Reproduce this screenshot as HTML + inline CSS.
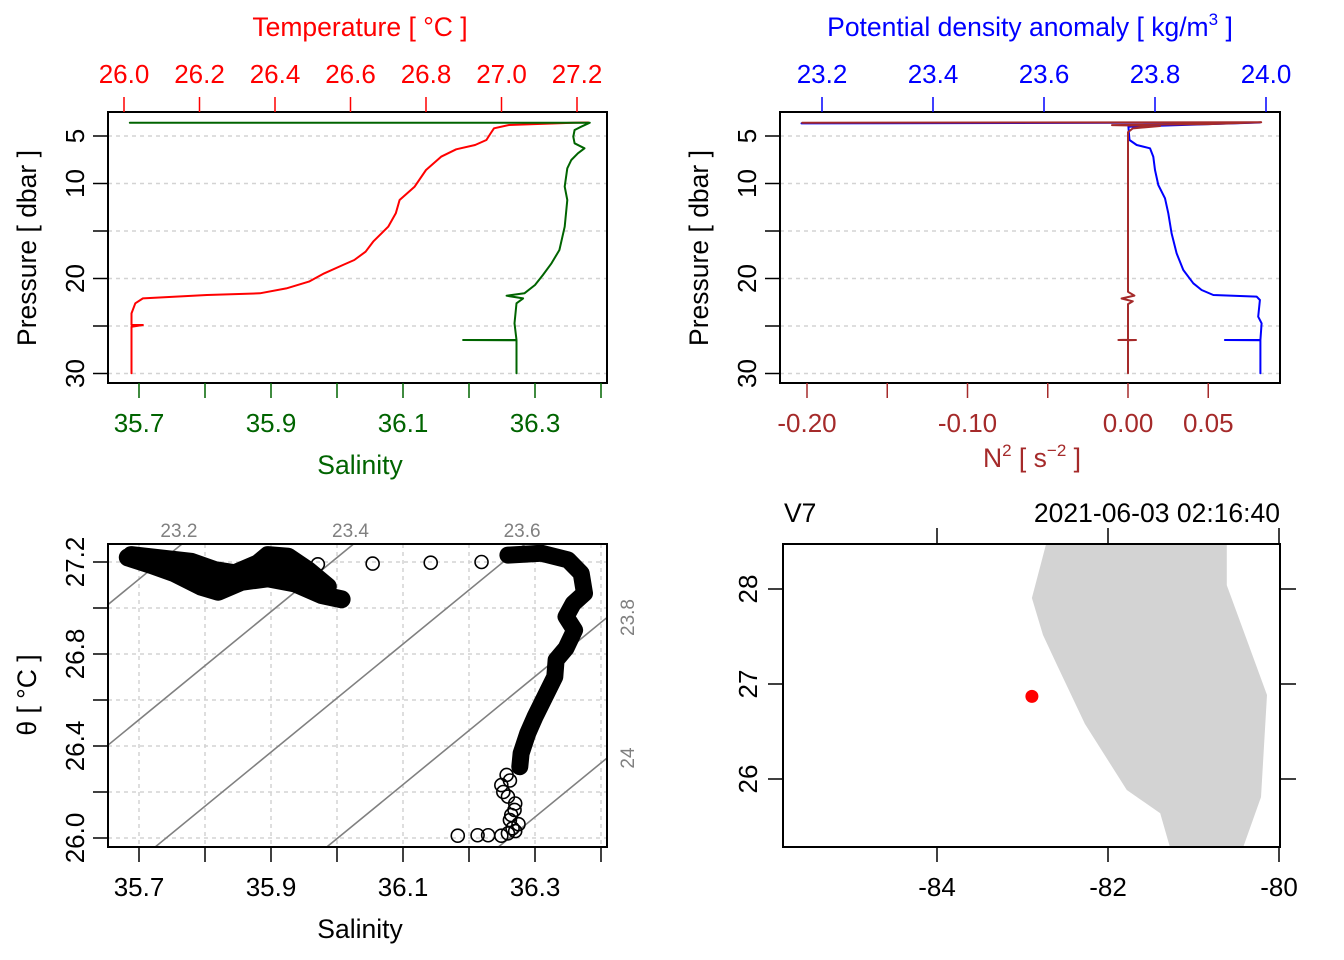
<!DOCTYPE html>
<html><head><meta charset="utf-8"><title>CTD summary</title>
<style>
html,body{margin:0;padding:0;background:#fff;}
svg{display:block;font-family:"Liberation Sans",Arial,sans-serif;}
</style></head>
<body>
<svg id="fig" width="1344" height="960" viewBox="0 0 1344 960" xmlns="http://www.w3.org/2000/svg">
<defs>
<clipPath id="c1"><rect x="108" y="112" width="499" height="271"/></clipPath>
<clipPath id="c2"><rect x="780" y="112" width="500" height="271"/></clipPath>
<clipPath id="c3"><rect x="108" y="544" width="499" height="303"/></clipPath>
<clipPath id="c4"><rect x="783" y="544" width="497" height="303"/></clipPath>
</defs>
</svg>
<script>
// ---------- data ----------
const tempT = [27.23,27.19,27.02,26.98,26.97,26.96,26.93,26.88,26.84,26.80,26.77,26.73,26.72,26.70,26.66,26.64,26.61,26.58,26.53,26.49,26.43,26.36,26.22,26.05,26.03,26.02,26.02,26.05,26.02,26.02,26.02];
const tempP = [3.58,3.60,3.84,4.19,4.79,5.42,5.95,6.40,7.18,8.58,10.33,11.74,13.14,14.55,16.12,17.18,18.05,18.58,19.46,20.33,21.04,21.56,21.74,22.09,22.61,23.67,24.89,24.89,25.07,26.82,29.98];
const salS = [35.686,36.383,36.370,36.360,36.358,36.360,36.375,36.365,36.355,36.349,36.345,36.349,36.345,36.337,36.325,36.312,36.300,36.284,36.257,36.282,36.272,36.269,36.272,36.191,36.272,36.272];
const salP = [3.60,3.60,4.02,4.37,5.07,5.77,6.30,6.82,7.53,8.40,10.33,11.74,14.55,17.00,18.40,19.63,20.68,21.56,21.81,22.09,22.61,24.72,26.47,26.47,26.50,29.98];
const sigVals = [23.163,23.989,23.752,23.754,23.767,23.791,23.797,23.800,23.806,23.818,23.824,23.830,23.839,23.851,23.869,23.884,23.905,23.983,23.989,23.986,23.992,23.990,23.926,23.990,23.990];
const sigP = [3.67,3.58,4.02,5.42,5.95,6.30,7.18,8.58,10.16,11.56,13.14,15.25,17.35,19.10,20.51,21.21,21.74,21.91,22.26,24.02,24.72,26.47,26.47,26.50,29.98];
const n2Vals = [-0.203,0.083,0.050,-0.010,0.020,0.003,0.0,0.0,0.004,-0.004,0.003,0.0,0.0,-0.006,0.005,0.0,0.0];
const n2P = [3.60,3.55,3.75,3.85,3.95,4.20,4.60,21.40,21.80,22.10,22.40,22.70,26.45,26.47,26.47,26.50,29.98];
const ts1S = [35.683,35.719,35.754,35.794,35.820,35.855,35.895,35.936,35.976,36.007];
const ts1T = [27.220,27.187,27.151,27.093,27.071,27.114,27.129,27.107,27.057,27.038];
const ts2S = [35.688,35.779,35.815,35.845,35.880,35.895,35.926,35.956,35.986];
const ts2T = [27.230,27.201,27.165,27.151,27.194,27.230,27.223,27.165,27.093];
const ts3S = [36.259,36.310,36.350,36.370,36.375,36.358,36.347,36.360,36.347,36.332,36.330,36.315,36.300,36.289,36.279,36.277];
const ts3T = [27.230,27.238,27.209,27.151,27.064,27.020,26.962,26.904,26.825,26.774,26.701,26.614,26.527,26.455,26.368,26.310];
const ts4S = [36.257,36.249,36.259,36.269,36.262,36.266,36.259,36.262,36.252,36.270,36.264,36.275,36.270];
const ts4T = [26.274,26.230,26.180,26.122,26.078,26.042,26.020,26.250,26.200,26.150,26.100,26.060,26.030];
const sparseS = [35.971,36.054,36.142,36.219,36.183,36.213,36.229,36.249];
const sparseT = [27.190,27.193,27.197,27.200,26.010,26.012,26.012,26.010];
const isoLevels = [23.2,23.4,23.6,23.8,24.0];
const isoLabels = ["23.2","23.4","23.6","23.8","24"];
const landLon = [-82.725,-82.89,-82.76,-82.596,-82.27,-81.78,-81.39,-81.275,-80.42,-80.21,-80.14,-80.61,-80.61];
const landLat = [28.47,27.905,27.516,27.2,26.58,25.884,25.64,25.28,25.28,25.81,26.884,28.04,28.47];
const stationLon = [-82.89];
const stationLat = [26.87];
const tempTicks = [26.0,26.2,26.4,26.6,26.8,27.0,27.2];
const salTicks = [35.7,35.8,35.9,36.0,36.1,36.2,36.3,36.4];
const salLabels = [35.7,35.9,36.1,36.3];
const presTicks = [5,10,15,20,25,30];
const presLabels = [5,10,20,30];
const sigTicks = [23.2,23.4,23.6,23.8,24.0];
const n2Ticks = [-0.20,-0.15,-0.10,-0.05,0.00,0.05];
const n2Labels = [-0.20,-0.10,0.00,0.05];
const thetaTicks = [26.0,26.2,26.4,26.6,26.8,27.0,27.2];
const thetaLabels = [26.0,26.4,26.8,27.2];
const lonTicks = [-84,-82,-80];
const latTicks = [26,27,28];

// ---------- scales ----------
const tx = T => 124 + (T - 26) * 377.5;
const sx = S => 139 + (S - 35.7) * 660;
const py = p => 88.5 + p * 9.5;
const dx = s => 822 + (s - 23.2) * 555;
const nx = n => 1128 + n * 1605;
const ty = t => 838 - (t - 26) * 230;
const lx = lon => 937 + (lon + 84) * 85.5;
const ly = lat => 684 - (lat - 27) * 95;

const FS = 26;
const NS = "http://www.w3.org/2000/svg";
const svg = document.getElementById('fig');
function mk(tag, attrs, parent) {
  const e = document.createElementNS(NS, tag);
  for (const k in attrs) e.setAttribute(k, attrs[k]);
  (parent || svg).appendChild(e);
  return e;
}
function txt(x, y, s, opts) {
  const e = mk('text', Object.assign({x: x, y: y, 'font-size': FS, 'text-anchor': 'middle', fill: '#000'}, opts || {}));
  e.textContent = s;
  return e;
}
function poly(xs, ys, fx, fy, color, w, clip) {
  const pts = xs.map((v, i) => fx(v).toFixed(1) + ',' + fy(ys[i]).toFixed(1)).join(' ');
  return mk('polyline', {points: pts, fill: 'none', stroke: color, 'stroke-width': w, 'stroke-linejoin': 'round', 'stroke-linecap': 'round', 'clip-path': 'url(#' + clip + ')'});
}
const fmt1 = v => v.toFixed(1);
const fmt2 = v => v.toFixed(2);

let e;
// ---------- Panel 1 ----------
for (const p of presTicks) {
  e = mk('line', {x1: 108, x2: 607, y1: py(p), y2: py(p), stroke: '#d3d3d3', 'stroke-width': 1.5, 'stroke-dasharray': '4,4'});
  
  
}
e = poly(tempT, tempP, tx, py, '#ff0000', 2, 'c1');


e = poly(salS, salP, sx, py, '#006400', 2, 'c1');


e = mk('rect', {x: 108, y: 112, width: 499, height: 271, fill: 'none', stroke: '#000', 'stroke-width': 2});


for (const t of tempTicks) {
  e = mk('line', {x1: tx(t), x2: tx(t), y1: 97, y2: 112, stroke: '#ff0000', 'stroke-width': 1.5});
  
  
  e = txt(tx(t), 83, fmt1(t), {fill: '#ff0000'});
  
  
}
e = txt(360, 36, 'Temperature [ °C ]', {fill: '#ff0000', 'font-size': 26.5});


for (const s of salTicks) {
  e = mk('line', {x1: sx(s), x2: sx(s), y1: 383, y2: 398, stroke: '#006400', 'stroke-width': 1.5});
  
  
}
for (const s of salLabels) {
  e = txt(sx(s), 432, fmt1(s), {fill: '#006400'});
  
  
}
e = txt(360, 474, 'Salinity', {fill: '#006400', 'font-size': 26.5});


function presAxis(x0) {
  for (const p of presTicks) {
    e = mk('line', {x1: x0 - 15, x2: x0, y1: py(p), y2: py(p), stroke: '#000', 'stroke-width': 1.5});
    
    
  }
  for (const p of presLabels) {
    e = txt(0, 0, String(p), {transform: 'translate(' + (x0 - 24) + ',' + py(p) + ') rotate(-90)'});
    
    
  }
  e = txt(0, 0, 'Pressure [ dbar ]', {'font-size': 26.5, transform: 'translate(' + (x0 - 72) + ',248) rotate(-90)'});
  
  
}
presAxis(108);

// ---------- Panel 2 ----------
for (const p of presTicks) {
  e = mk('line', {x1: 780, x2: 1280, y1: py(p), y2: py(p), stroke: '#d3d3d3', 'stroke-width': 1.5, 'stroke-dasharray': '4,4'});
  
  
}
e = poly(sigVals, sigP, dx, py, '#0000ff', 2, 'c2');


e = poly(n2Vals, n2P, nx, py, '#a52a2a', 2, 'c2');


e = mk('rect', {x: 780, y: 112, width: 500, height: 271, fill: 'none', stroke: '#000', 'stroke-width': 2});


for (const s of sigTicks) {
  e = mk('line', {x1: dx(s), x2: dx(s), y1: 97, y2: 112, stroke: '#0000ff', 'stroke-width': 1.5});
  
  
  e = txt(dx(s), 83, fmt1(s), {fill: '#0000ff'});
  
  
}
e = txt(1030, 36, '', {fill: '#0000ff', 'font-size': 26.5});
e.innerHTML = 'Potential density anomaly [ kg/m<tspan dy="-11" font-size="17">3</tspan><tspan dy="11"> ]</tspan>';


for (const n of n2Ticks) {
  e = mk('line', {x1: nx(n), x2: nx(n), y1: 383, y2: 398, stroke: '#a52a2a', 'stroke-width': 1.5});
  
  
}
for (const n of n2Labels) {
  e = txt(nx(n), 432, fmt2(n), {fill: '#a52a2a'});
  
  
}
e = txt(1032, 467, '', {fill: '#a52a2a', 'font-size': 26.5});
e.innerHTML = 'N<tspan dy="-11" font-size="17">2</tspan><tspan dy="11"> [ s</tspan><tspan dy="-11" font-size="17">−2</tspan><tspan dy="11"> ]</tspan>';


presAxis(780);

// ---------- Panel 3: T-S ----------
for (const s of salTicks) {
  e = mk('line', {x1: sx(s), x2: sx(s), y1: 544, y2: 847, stroke: '#d3d3d3', 'stroke-width': 1.5, 'stroke-dasharray': '4,4'});
  
  
}
for (const t of thetaTicks) {
  e = mk('line', {x1: 108, x2: 607, y1: ty(t), y2: ty(t), stroke: '#d3d3d3', 'stroke-width': 1.5, 'stroke-dasharray': '4,4'});
  
  
}
const isoRefS = 36.285, isoRefT = 27.278, isoRefSig = 23.6, dSdSig = 1.3, dSdT = 1 / 2.35;
isoLevels.forEach((lev, i) => {
  const sAt = t => isoRefS + (lev - isoRefSig) * dSdSig + (t - isoRefT) * dSdT;
  const tLo = 25.9, tHi = 27.4;
  e = mk('line', {x1: sx(sAt(tLo)), y1: ty(tLo), x2: sx(sAt(tHi)), y2: ty(tHi), stroke: '#808080', 'stroke-width': 1.6, 'clip-path': 'url(#c3)'});
  
  
  const sTop = sAt(isoRefT);
  if (sx(sTop) <= 607) {
    e = txt(sx(sTop) - 3, 537, isoLabels[i], {fill: '#808080', 'font-size': 19});
  } else {
    const tRight = isoRefT - (sx(sTop) - 607) / 660 / dSdT;
    e = txt(0, 0, isoLabels[i], {fill: '#808080', 'font-size': 19, transform: 'translate(634,' + ty(tRight) + ') rotate(-90)'});
  }
  
  
});
// fill between upper band edges
{
  const pts = ts2S.map((s, i) => sx(s).toFixed(1) + ',' + ty(ts2T[i]).toFixed(1))
    .concat(ts1S.slice().reverse().map((s, i) => sx(s).toFixed(1) + ',' + ty(ts1T[ts1T.length - 1 - i]).toFixed(1)));
  e = mk('polygon', {points: pts.join(' '), fill: '#000', stroke: 'none', 'clip-path': 'url(#c3)'});
  
  
}
function tsSeries(S, T, thick, name) {
  if (thick) {
    e = poly(S, T, sx, ty, '#000', thick, 'c3');
    
    
  }
  S.forEach((s, i) => {
    e = mk('circle', {cx: sx(s), cy: ty(T[i]), r: 6.5, fill: 'none', stroke: '#000', 'stroke-width': 1.6, 'clip-path': 'url(#c3)'});
    
    
  });
}
tsSeries(ts1S, ts1T, 18, 'ts-upper-lower');
tsSeries(ts2S, ts2T, 18, 'ts-upper-top');
tsSeries(ts3S, ts3T, 17, 'ts-deep');
tsSeries(ts4S, ts4T, 0, 'ts-bottom');
tsSeries(sparseS, sparseT, 0, 'ts-sparse');
e = mk('rect', {x: 108, y: 544, width: 499, height: 303, fill: 'none', stroke: '#000', 'stroke-width': 2});


for (const s of salTicks) {
  e = mk('line', {x1: sx(s), x2: sx(s), y1: 847, y2: 862, stroke: '#000', 'stroke-width': 1.5});
  
  
}
for (const s of salLabels) {
  e = txt(sx(s), 896, fmt1(s));
  
  
}
e = txt(360, 938, 'Salinity', {'font-size': 26.5});


for (const t of thetaTicks) {
  e = mk('line', {x1: 93, x2: 108, y1: ty(t), y2: ty(t), stroke: '#000', 'stroke-width': 1.5});
  
  
}
for (const t of thetaLabels) {
  e = txt(0, 0, fmt1(t), {transform: 'translate(84,' + ty(t) + ') rotate(-90)'});
  
  
}
e = txt(0, 0, 'θ [ °C ]', {'font-size': 26.5, transform: 'translate(36,695) rotate(-90)'});



// ---------- Panel 4: map ----------
e = mk('polygon', {points: landLon.map((v, i) => lx(v).toFixed(1) + ',' + ly(landLat[i]).toFixed(1)).join(' '), fill: '#d3d3d3', stroke: 'none', 'clip-path': 'url(#c4)'});


stationLon.forEach((lon, i) => {
  e = mk('circle', {cx: lx(lon), cy: ly(stationLat[i]), r: 6.5, fill: '#ff0000'});
  
  
});
e = mk('rect', {x: 783, y: 544, width: 497, height: 303, fill: 'none', stroke: '#000', 'stroke-width': 2});


for (const lon of lonTicks) {
  e = mk('line', {x1: lx(lon), x2: lx(lon), y1: 528, y2: 544, stroke: '#000', 'stroke-width': 1.5});
  
  
  e = mk('line', {x1: lx(lon), x2: lx(lon), y1: 847, y2: 862, stroke: '#000', 'stroke-width': 1.5});
  
  
  e = txt(lx(lon), 896, String(lon));
  
  
}
for (const lat of latTicks) {
  e = mk('line', {x1: 768, x2: 783, y1: ly(lat), y2: ly(lat), stroke: '#000', 'stroke-width': 1.5});
  
  
  e = mk('line', {x1: 1280, x2: 1296, y1: ly(lat), y2: ly(lat), stroke: '#000', 'stroke-width': 1.5});
  
  
  e = txt(0, 0, String(lat), {transform: 'translate(757,' + ly(lat) + ') rotate(-90)'});
  
  
}
e = txt(784, 522, 'V7', {'text-anchor': 'start', 'font-size': 26.5});


e = txt(1280, 522, '2021-06-03 02:16:40', {'text-anchor': 'end', 'font-size': 26.5});


</script>
</body></html>
